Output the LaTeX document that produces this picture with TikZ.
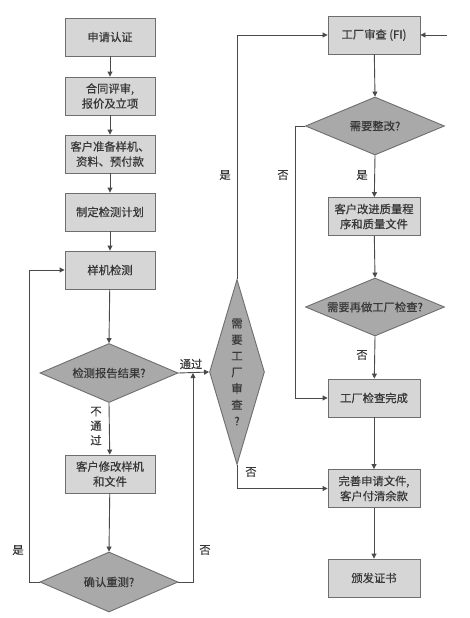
\documentclass[tikz,border=0pt]{standalone}
\usepackage{fontspec}
\newfontfamily\cjk[FakeBold=0.5]{Noto Sans CJK SC}
\usetikzlibrary{shapes.geometric,arrows.meta}
\definecolor{boxfill}{HTML}{D6D6D6}
\definecolor{dfill}{HTML}{A9A9A9}
\definecolor{edge}{HTML}{6E6E6E}
\definecolor{linec}{HTML}{4A4A4A}
\definecolor{txt}{HTML}{383838}
\tikzset{
  every node/.style={font=\cjk\fontsize{11.3}{15}\selectfont, text=txt},
  procbox/.style={draw=edge, fill=boxfill, line width=0.9pt, minimum width=90pt, minimum height=38pt, inner sep=0pt, align=center},
  rbox/.style={procbox, minimum width=92pt},
  decide/.style={draw=edge, fill=dfill, line width=0.9pt, shape=diamond, inner sep=0pt, aspect=2.3, align=center},
  arrow/.style={draw=linec, line width=0.9pt, -{Triangle[length=5pt,width=5pt]}},
  plain/.style={draw=linec, line width=0.9pt},
  lab/.style={inner sep=0pt}
}
\begin{document}
\begin{tikzpicture}[x=1pt,y=-1pt]
\fill[white] (0,0) rectangle (469,618);
\useasboundingbox (0,0) rectangle (469,618);
% left column
\node[procbox] (a1) at (110,37) {申请认证};
\node[procbox] (a2) at (110,96) {合同评审,\\报价及立项};
\node[procbox] (a3) at (110,154) {客户准备样机、\\资料、预付款};
\node[procbox] (a4) at (110,212) {制定检测计划};
\node[procbox] (a5) at (110,270) {样机检测};
\node[decide, minimum width=138pt, minimum height=59pt] (d1) at (109,373) {检测报告结果?};
\node[procbox] (a6) at (110,474) {客户修改样机\\和文件};
\node[decide, minimum width=138pt, minimum height=60pt] (d2) at (109,582) {确认重测?};
% tall diamond
\node[decide, aspect=0.3, minimum width=55pt, minimum height=185pt, font=\cjk\fontsize{11.3}{16.3}\selectfont] (dt) at (237,372) {需\\要\\工\\厂\\审\\查\\?};
% right column
\node[rbox] (r1) at (374,35) {工厂审查 (FI)};
\node[decide, minimum width=139pt, minimum height=58pt] (d3) at (375,126) {需要整改?};
\node[rbox] (r2) at (374,216.5) {客户改进质量程\\序和质量文件};
\node[decide, minimum width=139pt, minimum height=58pt] (d4) at (375,307) {需要再做工厂检查?};
\node[rbox] (r3) at (374,398) {工厂检查完成};
\node[rbox] (r4) at (374,488.5) {完善申请文件,\\客户付清余款};
\node[rbox] (r5) at (374,578) {颁发证书};
\coordinate (j1) at (193,373);
\coordinate (rin) at (447,35);
% left connectors
\draw[arrow] (a1) -- (a2);
\draw[arrow] (a2) -- (a3);
\draw[arrow] (a3) -- (a4);
\draw[arrow] (a4) -- (a5);
\draw[arrow] (a5) -- (d1.north);
\draw[arrow] (d1.south) -- (a6);
\draw[arrow] (a6) -- (d2.north);
\draw[arrow] (d2.west) -- ++(-10,0) |- (a5.west);
\draw[arrow] (d2.east) -| (j1);
\draw[arrow] (d1.east) -- (dt.west);
\node[lab] (l1) at (191,364) {通过};
\node[lab, align=center, font=\cjk\fontsize{11.3}{14.5}\selectfont] (l2) at (96,426) {不\\通\\过};
\node[lab] (l3) at (18,550) {是};
\node[lab] (l4) at (205,550) {否};
% tall diamond connectors
\draw[arrow] (dt.north) |- (r1.west);
\draw[arrow] (dt.south) |- (r4.west);
\node[lab] (l5) at (225,175) {是};
\node[lab] (l6) at (251,472) {否};
% right connectors
\draw[arrow] (rin) -- (r1.east);
\draw[arrow] (r1) -- (d3.north);
\draw[arrow] (d3.south) -- (r2);
\draw[arrow] (r2) -- (d4.north);
\draw[arrow] (d4.south) -- (r3);
\draw[arrow] (d3.west) -- ++(-10,0) |- (r3.west);
\draw[arrow] (r3) -- (r4);
\draw[arrow] (r4) -- (r5);
\node[lab] (l7) at (362,175) {是};
\node[lab] (l8) at (283,175) {否};
\node[lab] (l9) at (362,355) {否};
\end{tikzpicture}
\end{document}
